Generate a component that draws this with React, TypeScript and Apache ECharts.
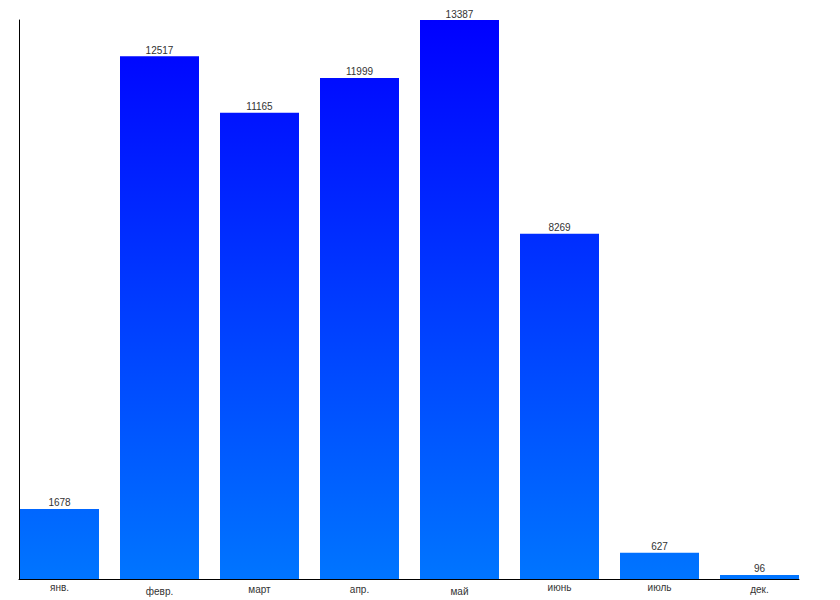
import React, { useEffect, useRef } from "react";
import * as echarts from "echarts";

const categories = ["янв.", "февр.", "март", "апр.", "май", "июнь", "июль", "дек."];
const values = [1678, 12517, 11165, 11999, 13387, 8269, 627, 96];
// small per-label vertical offsets seen in the reference
const labelOffsets = [0, 4, 2, 2, 4, 0, 0, 2];

export default function App() {
  const ref = useRef<HTMLDivElement>(null);
  useEffect(() => {
    if (!ref.current) return;
    const chart = echarts.init(ref.current, null, { renderer: "svg" });
    const font = "'Liberation Sans', Arial, sans-serif";
    const gradient = new echarts.graphic.LinearGradient(
      0, 20, 0, 579,
      [
        { offset: 0, color: "#0000ff" },
        { offset: 1, color: "#0075ff" },
      ],
      true
    );
    chart.setOption({
      animation: false,
      backgroundColor: "#ffffff",
      grid: [
        { left: 9.5, width: 800, top: 20, bottom: 21 },
        { left: 19, width: 780, top: 20, bottom: 21 },
      ],
      xAxis: [
        {
          type: "category",
          gridIndex: 0,
          data: categories.map((c, i) => ({
            value: c,
            textStyle: { padding: [labelOffsets[i], 0, 0, 0] },
          })),
          axisLine: { show: false },
          axisTick: { show: false },
          axisLabel: {
            fontSize: 10,
            fontFamily: font,
            color: "#333",
            margin: 3,
            interval: 0,
          },
        },
        {
          type: "value",
          gridIndex: 1,
          min: 0,
          max: 1,
          axisLine: { show: true, lineStyle: { color: "#000", width: 1 } },
          axisTick: { show: false },
          axisLabel: { show: false },
          splitLine: { show: false },
        },
      ],
      yAxis: [
        {
          type: "value",
          gridIndex: 0,
          min: 0,
          max: 13387,
          show: false,
          splitLine: { show: false },
        },
        {
          type: "value",
          gridIndex: 1,
          min: 0,
          max: 1,
          axisLine: { show: true, lineStyle: { color: "#000", width: 1 } },
          axisTick: { show: false },
          axisLabel: { show: false },
          splitLine: { show: false },
        },
      ],
      series: [
        {
          type: "bar",
          xAxisIndex: 0,
          yAxisIndex: 0,
          data: values,
          barWidth: 79,
          itemStyle: { color: gradient },
          label: {
            show: true,
            position: "top",
            distance: 1,
            fontSize: 10,
            fontFamily: font,
            color: "#333",
          },
        },
      ],
    });
    return () => chart.dispose();
  }, []);
  return (
    <div
      ref={ref}
      style={{ position: "fixed", left: 0, top: 0, width: 840, height: 600 }}
    />
  );
}
